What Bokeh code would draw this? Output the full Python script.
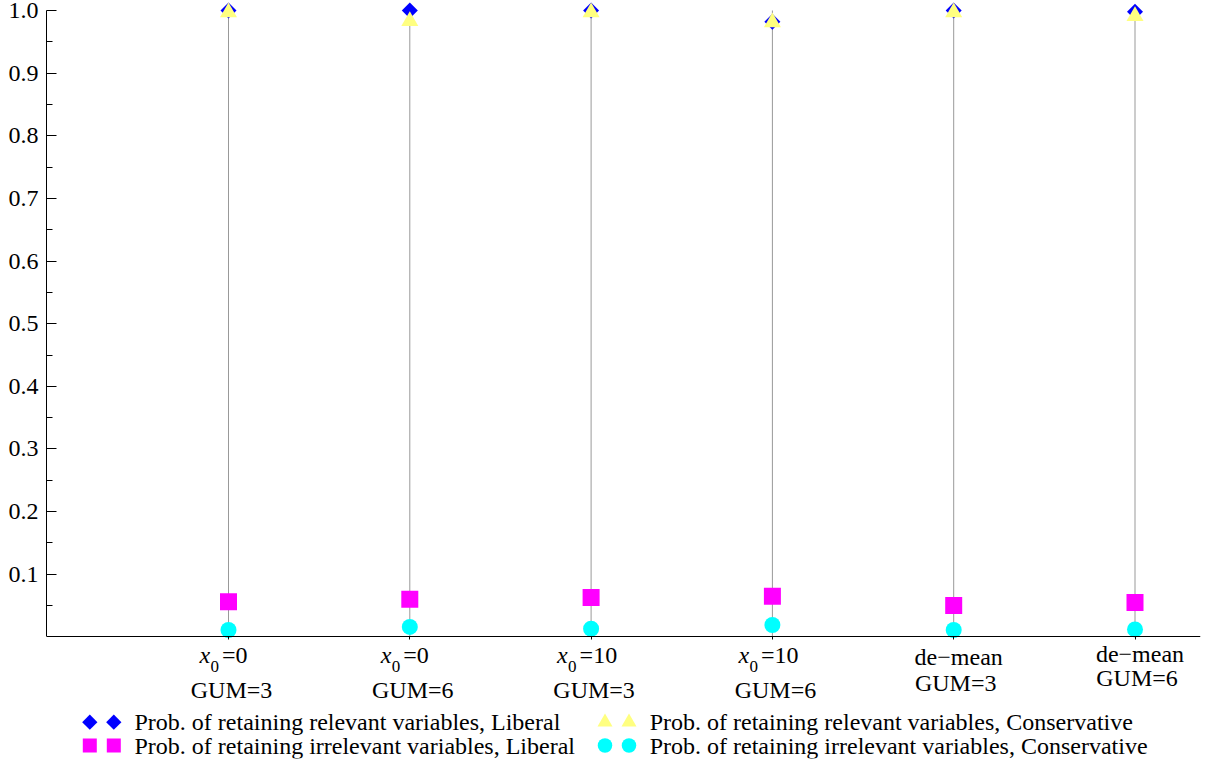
import math
from bokeh.plotting import figure
from bokeh.models import Range1d, FixedTicker, Label, PrintfTickFormatter
from bokeh.embed import file_html
from bokeh.resources import INLINE
from bokeh.core.properties import value

# ---------------- data ----------------
tick_line1 = ["x\u2080=0", "x\u2080=0", "x\u2080=10", "x\u2080=10", "de\u2212mean", "de\u2212mean"]
tick_line2 = ["GUM=3", "GUM=6", "GUM=3", "GUM=6", "GUM=3", "GUM=6"]

rel_liberal = [1.000, 1.000, 1.000, 0.982, 1.000, 0.998]
rel_conservative = [0.997, 0.983, 0.997, 0.981, 0.997, 0.991]
irr_liberal = [0.056, 0.060, 0.063, 0.065, 0.050, 0.055]
irr_conservative = [0.011, 0.016, 0.013, 0.019, 0.011, 0.012]
stem_top = [1.0, 1.0, 1.0, 1.0, 1.0, 1.0]

y_ticks = [0.1, 0.2, 0.3, 0.4, 0.5, 0.6, 0.7, 0.8, 0.9, 1.0]

series_names = [
    "Prob. of retaining relevant variables, Liberal",
    "Prob. of retaining irrelevant variables, Liberal",
    "Prob. of retaining relevant variables, Conservative",
    "Prob. of retaining irrelevant variables, Conservative",
]

# ---------------- style / layout ----------------
FONT = "Liberation Serif"
C_BLUE = "#0000FF"
C_YEL = "#FFFF80"
C_MAG = "#FF00FF"
C_CYAN = "#00FFFF"

W, H = 1206, 762
LEFT, RIGHT_PAD, BOTTOM_PAD = 46, 6, 4
X_UNIT = 181.3          # px per category step
Y0_PX, Y1_PX = 636.4, 10.0   # pixel rows of y=0 and y=1
frame_w = W - LEFT - RIGHT_PAD
frame_h = H - BOTTOM_PAD
x_start = 1 - (228 - LEFT) / X_UNIT
x_end = x_start + frame_w / X_UNIT
y_unit = Y0_PX - Y1_PX
y_end = 1 + Y1_PX / y_unit
y_start = -(frame_h - Y0_PX) / y_unit


def px2x(px):
    return x_start + (px - LEFT) / X_UNIT


def py2y(py):
    return (Y0_PX - py) / y_unit


xpos = [i + 1 for i in range(len(tick_line1))]

p = figure(width=W, height=H,
           x_range=Range1d(x_start, x_end), y_range=Range1d(y_start, y_end),
           output_backend="svg", toolbar_location=None,
           min_border_left=LEFT, min_border_right=RIGHT_PAD,
           min_border_top=0, min_border_bottom=BOTTOM_PAD)
p.outline_line_color = None
p.grid.visible = False
p.background_fill_color = "white"
p.border_fill_color = "white"

# y axis
ya = p.yaxis[0]
ya.ticker = FixedTicker(ticks=y_ticks, minor_ticks=[round(t - 0.05, 2) for t in y_ticks])
ya.formatter = PrintfTickFormatter(format="%.1f")
ya.bounds = (0, 1)
ya.major_tick_in = 10
ya.major_tick_out = 0
ya.minor_tick_in = 6
ya.minor_tick_out = 0
ya.major_label_standoff = 8
ya.major_label_text_font = FONT
ya.major_label_text_font_size = "24px"
ya.major_label_text_color = "black"
ya.axis_line_color = "black"
ya.major_tick_line_color = "black"
ya.minor_tick_line_color = "black"

# x axis, fixed at y = 0
xa = p.xaxis[0]
xa.fixed_location = 0
xa.ticker = FixedTicker(ticks=xpos)
xa.major_label_overrides = {x: "" for x in xpos}
xa.major_label_standoff = 0
xa.major_tick_in = 0
xa.major_tick_out = 3
xa.minor_tick_line_color = None
xa.axis_line_color = "black"
xa.major_tick_line_color = "black"

# stems
p.segment(x0=xpos, y0=[0] * len(xpos), x1=xpos, y1=stem_top,
          line_color="#999999", line_width=1)

# markers
p.scatter(xpos, rel_liberal, marker="square", angle=math.pi / 4, size=11.3,
          fill_color=C_BLUE, line_color=None)
p.scatter(xpos, rel_conservative, marker="triangle", size=17,
          fill_color=C_YEL, line_color=None)
p.scatter(xpos, irr_liberal, marker="square", size=17,
          fill_color=C_MAG, line_color=None)
p.scatter(xpos, irr_conservative, marker="circle", size=16,
          fill_color=C_CYAN, line_color=None)

# category labels (two lines, italic x with subscript 0); offsets in px below y=0
dy1 = [-17.6, -17.6, -17.6, -17.6, -20.5, -17.5]
dy2 = [-53.1, -53.1, -53.1, -53.1, -45.6, -41.1]


def lab(cx, dx, dy, text, size="24px", style="normal", align="left"):
    p.add_layout(Label(x=cx, y=0, x_offset=dx, y_offset=dy, text=text,
                       text_font=FONT, text_font_style=style, text_font_size=size,
                       text_align=align, text_baseline="middle", text_color="black"))


for i, (l1, l2) in enumerate(zip(tick_line1, tick_line2)):
    cx = xpos[i]
    if l1.startswith("x\u2080"):
        rest = l1[2:]
        left = -29 if len(rest) == 2 else -34
        lab(cx, left, dy1[i], "x", style="italic")
        lab(cx, left + 11, dy1[i] - 12.3, "0", size="17px")
        lab(cx, left + 22.5, dy1[i], rest)
        lab(cx, 3, dy2[i], l2, align="center")
    else:
        lab(cx, 5, dy1[i], l1, align="center")
        lab(cx, 2, dy2[i], l2, align="center")

# ---------------- legend (two swatches per entry) ----------------
leg_styles = [
    dict(marker="square", angle=math.pi / 4, size=10.8, fill_color=C_BLUE),
    dict(marker="square", angle=0, size=14, fill_color=C_MAG),
    dict(marker="triangle", angle=0, size=15, fill_color=C_YEL),
    dict(marker="circle", angle=0, size=14.5, fill_color=C_CYAN),
]
col_px = [89.3, 604.5]
row_px = [721.7, 745.0]
for k, name in enumerate(series_names):
    c, r = divmod(k, 2)
    mx = col_px[c]
    yy = py2y(row_px[r])
    st = leg_styles[k]
    p.scatter([px2x(mx), px2x(mx + 24)], [yy, yy], marker=st["marker"], angle=st["angle"],
              size=st["size"], fill_color=st["fill_color"], line_color=None)
    p.text(x=[px2x(mx + 44.7)], y=[yy], text=[name], text_font=value(FONT),
           text_font_size=value("24px"), text_baseline="middle", text_align="left",
           text_color="black")

open("out.html", "w").write(file_html(p, INLINE))
